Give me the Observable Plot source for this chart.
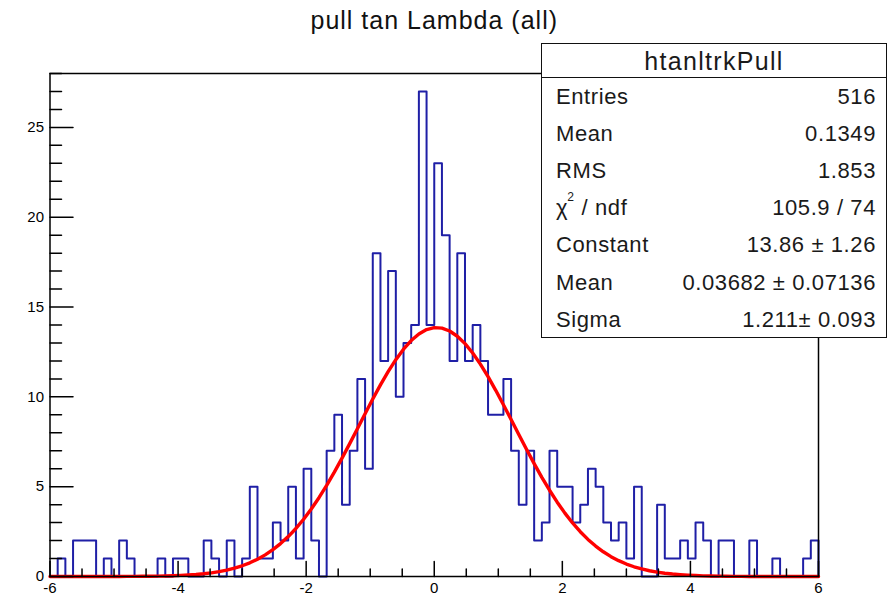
<!DOCTYPE html>
<html>
<head>
<meta charset="utf-8">
<script src="https://cdn.jsdelivr.net/npm/d3@7"></script>
<script src="https://cdn.jsdelivr.net/npm/@observablehq/plot@0.6"></script>
<style>
  html, body { margin: 0; padding: 0; background: #fff; }
  #chart { position: relative; width: 895px; height: 597px; font-family: "Liberation Sans", Arial, Helvetica, sans-serif; }
  #chart svg { position: absolute; left: 0; top: 0; }
  .stats { position: absolute; left: 541px; top: 43px; width: 346px; height: 295px; box-sizing: border-box;
           border: 1.5px solid #111; background: #fff; color: #1a1a1a; }
  .stats .head { height: 33px; border-bottom: 1.5px solid #111; text-align: center; font-size: 25px;
                 line-height: 34px; letter-spacing: 1.3px; }
  .stats .row { display: flex; justify-content: space-between; align-items: center; height: 37.2px;
                padding: 0 10px 0 14px; font-size: 22px; letter-spacing: 0.6px; }
  .stats sup { font-size: 0.55em; position: relative; top: -0.4em; vertical-align: top; letter-spacing: 0; margin-left: -1px; margin-right: 1px; }
</style>
</head>
<body>
<div id="chart"></div>
<script>
// Histogram definition: 100 bins between -6 and 6
const binLow = -6;
const binHigh = 6;
const counts = [
  0, 1, 0, 2, 2, 2, 0, 1, 0, 2,
  1, 0, 0, 0, 1, 0, 1, 1, 0, 0,
  2, 1, 0, 2, 0, 1, 5, 1, 1, 3,
  2, 5, 1, 6, 2, 0, 7, 9, 4, 7,
  11, 6, 18, 12, 17, 10, 13, 14, 27, 14,
  23, 19, 12, 18, 12, 14, 12, 9, 9, 11,
  7, 4, 7, 2, 3, 7, 5, 5, 3, 4,
  6, 5, 3, 2, 3, 1, 5, 0, 0, 4,
  1, 1, 2, 1, 3, 2, 0, 2, 2, 0,
  0, 2, 0, 0, 1, 0, 0, 0, 1, 2
];

// Gaussian fit results
const fitConstant = 13.86, fitConstantErr = 1.26;
const fitMean = 0.03682, fitMeanErr = 0.07136;
const fitSigma = 1.211, fitSigmaErr = 0.093;
const chi2 = 105.9, ndf = 74;

// Statistics
const entries = 516;
const histMean = 0.1349;
const histRms = 1.853;

// Axis labels
const xTickLabels = [-6, -4, -2, 0, 2, 4, 6];
const yTickLabels = [0, 5, 10, 15, 20, 25];

const titleText = "pull tan Lambda (all)";
const histName = "htanltrkPull";

const statNames = ["Entries", "Mean", "RMS", "χ² / ndf", "Constant", "Mean", "Sigma"];
const statValues = [
  String(entries), String(histMean), String(histRms), `${chi2} / ${ndf}`,
  `${fitConstant} ± ${fitConstantErr}`, `${fitMean} ± ${fitMeanErr}`, `${fitSigma}± ${fitSigmaErr}`
];

// Outline of the histogram as a step polyline
const binWidth = (binHigh - binLow) / counts.length;
const histOutline = [{x: binLow, y: 0}];
counts.forEach((c, i) => {
  histOutline.push({x: binLow + i * binWidth, y: c});
  histOutline.push({x: binLow + (i + 1) * binWidth, y: c});
});
histOutline.push({x: binHigh, y: 0});

// Fitted gaussian sampled across the histogram range
const fitCurve = d3.range(0, 101).map(i => {
  const x = binLow + i * (binHigh - binLow) / 100;
  return {x, y: fitConstant * Math.exp(-0.5 * ((x - fitMean) / fitSigma) ** 2)};
});

// Inward tick marks
const tickIn = {draw(context, l) { context.moveTo(0, 0); context.lineTo(0, -l); }};
const xMinorTicks = d3.range(-6, 6.001, 0.5).filter(v => !xTickLabels.includes(v));
const yAllTicks = d3.range(0, 29);
const yMinorTicks = yAllTicks.filter(v => v % 5 !== 0);
const yMajorTicks = yAllTicks.filter(v => v % 5 === 0);

const fontFamily = '"Liberation Sans", Arial, Helvetica, sans-serif';

const svg = Plot.plot({
  width: 895,
  height: 597,
  marginLeft: 49.5,
  marginRight: 77,
  marginTop: 73,
  marginBottom: 21,
  x: {domain: [binLow, binHigh], label: null},
  y: {domain: [0, 28], label: null},
  style: {fontFamily, color: "#000", background: "transparent", overflow: "visible"},
  marks: [
    Plot.line(histOutline, {x: "x", y: "y", stroke: "#1f1fa6", strokeWidth: 2}),
    Plot.line(fitCurve, {x: "x", y: "y", stroke: "#ff0000", strokeWidth: 3.4}),
    Plot.frame({stroke: "#000", strokeWidth: 1.5}),
    Plot.vector(xTickLabels, {x: d => d, frameAnchor: "bottom", length: 15, anchor: "start", shape: tickIn, stroke: "#000", strokeWidth: 1.5}),
    Plot.vector(xMinorTicks, {x: d => d, frameAnchor: "bottom", length: 7.5, anchor: "start", shape: tickIn, stroke: "#000", strokeWidth: 1.5}),
    Plot.vector(yMajorTicks, {y: d => d, frameAnchor: "left", length: 23, rotate: 90, anchor: "start", shape: tickIn, stroke: "#000", strokeWidth: 1.5}),
    Plot.vector(yMinorTicks, {y: d => d, frameAnchor: "left", length: 11.5, rotate: 90, anchor: "start", shape: tickIn, stroke: "#000", strokeWidth: 1.5}),
    Plot.axisX({ticks: xTickLabels, tickSize: 0, tickPadding: 6, tickFormat: d => String(d), fontSize: 15}),
    Plot.axisY({ticks: yTickLabels, tickSize: 0, tickPadding: 6, tickFormat: d => String(d), fontSize: 15}),
    Plot.text([titleText], {text: d => d, frameAnchor: "top", dy: -45, lineAnchor: "bottom", fontSize: 25, fill: "#111"})
  ]
});

// Slightly wider lettering for the title, and tick label size
d3.select(svg).selectAll("g[aria-label='text'] text").attr("letter-spacing", "1px");
d3.select(svg).selectAll("g[aria-label$='tick label']").style("font-size", "15px").attr("font-size", 15);

const chart = document.getElementById("chart");
chart.appendChild(svg);

// Statistics box
const box = document.createElement("div");
box.className = "stats";
const head = document.createElement("div");
head.className = "head";
head.textContent = histName;
box.appendChild(head);
statNames.forEach((name, i) => {
  const row = document.createElement("div");
  row.className = "row";
  const l = document.createElement("span");
  l.innerHTML = name.replace("²", "<sup>2</sup>");
  const r = document.createElement("span");
  r.textContent = statValues[i];
  row.appendChild(l);
  row.appendChild(r);
  box.appendChild(row);
});
chart.appendChild(box);
</script>
</body>
</html>
